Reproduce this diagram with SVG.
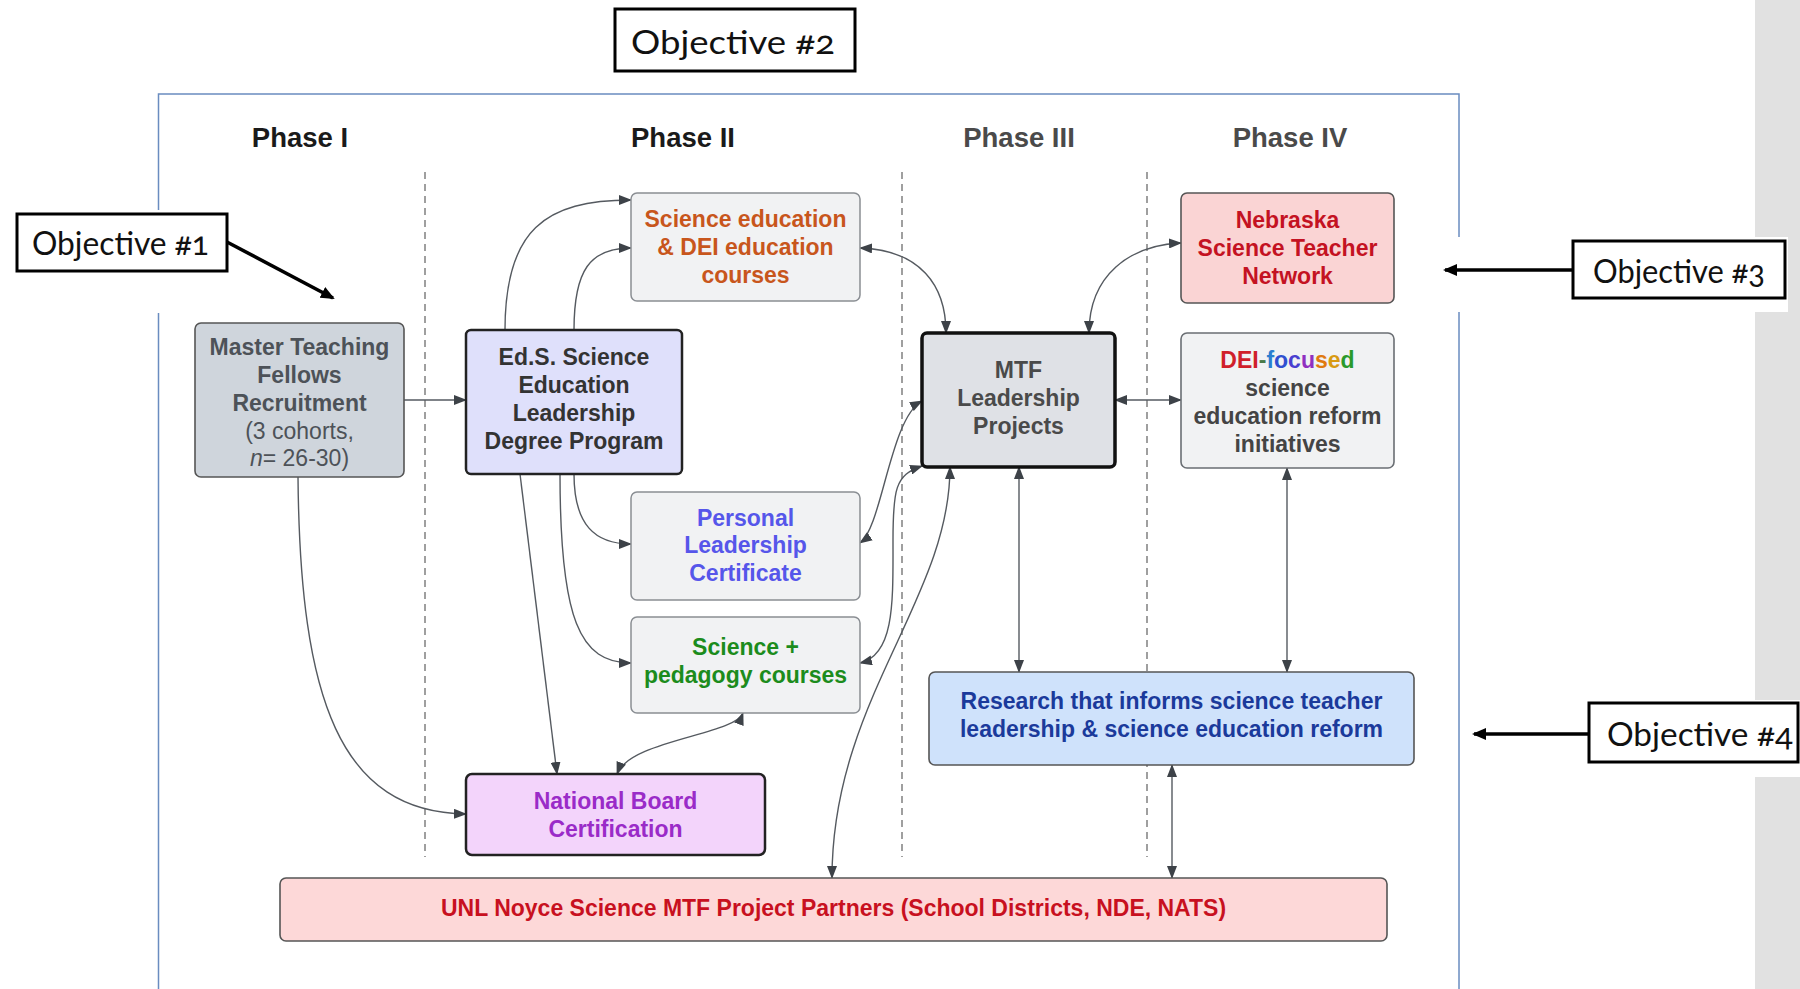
<svg xmlns="http://www.w3.org/2000/svg" width="1800" height="989" viewBox="0 0 1800 989">
<style>
.ph{font-family:"Liberation Sans",Arial,sans-serif;font-weight:bold;font-size:27.5px;text-anchor:middle}
.t{font-family:"Liberation Sans",Arial,sans-serif;font-weight:bold;font-size:23px;text-anchor:middle}
.obj{font-family:Lato,"Open Sans",sans-serif;font-size:33px;fill:#111;font-feature-settings:"onum";font-variant-numeric:oldstyle-nums}
.objbox{fill:#fff;stroke:#000;stroke-width:3}
.c{fill:none;stroke:#555a60;stroke-width:1.4}
.dash{stroke:#777;stroke-width:1.4;stroke-dasharray:7,5}
</style>
<defs>
<marker id="ah" markerWidth="13" markerHeight="10" refX="12" refY="5" orient="auto-start-reverse" markerUnits="userSpaceOnUse">
<path d="M0,0 L13,5 L0,10 z" fill="#3d4248"/>
</marker>
<marker id="bh" markerWidth="14" markerHeight="12" refX="12" refY="6" orient="auto" markerUnits="userSpaceOnUse">
<path d="M0,0 L14,6 L0,12 z" fill="#000"/>
</marker>
</defs>
<rect width="1800" height="989" fill="#fff"/>
<rect x="1755" y="0" width="45" height="989" fill="#e1e1e1"/>
<rect x="158.5" y="94" width="1300.5" height="920" fill="none" stroke="#6a8cc0" stroke-width="1.5"/>
<g id="phases">
<text class="ph" x="300" y="147" fill="#1a1a1a">Phase I</text>
<text class="ph" x="683" y="147" fill="#1a1a1a">Phase II</text>
<text class="ph" x="1019" y="147" fill="#4a4a4a">Phase III</text>
<text class="ph" x="1290" y="147" fill="#4a4a4a">Phase IV</text>
</g>
<g id="dividers">
<line class="dash" x1="425" y1="172" x2="425" y2="857"/>
<line class="dash" x1="902" y1="172" x2="902" y2="857"/>
<line class="dash" x1="1147" y1="172" x2="1147" y2="857"/>
</g>
<g id="connectors">
<path class="c" d="M404,400 L466,400" marker-end="url(#ah)"/>
<path class="c" d="M505,330 C505,230 545,200 631,200" marker-end="url(#ah)"/>
<path class="c" d="M574,330 C574,270 590,248 631,248" marker-end="url(#ah)"/>
<path class="c" d="M574,474 C574,525 595,544 631,544" marker-end="url(#ah)"/>
<path class="c" d="M560,474 C560,620 580,663 631,663" marker-end="url(#ah)"/>
<path class="c" d="M520,474 L557,774" marker-end="url(#ah)"/>
<path class="c" d="M298,477 C300,700 340,812 466,814" marker-end="url(#ah)"/>
<path class="c" d="M743,713 C735,735 630,740 617,774" marker-start="url(#ah)" marker-end="url(#ah)"/>
<path class="c" d="M860,248 C920,250 946,285 946,333" marker-start="url(#ah)" marker-end="url(#ah)"/>
<path class="c" d="M860,543 C882,528 890,418 922,401" marker-start="url(#ah)" marker-end="url(#ah)"/>
<path class="c" d="M860,663 C895,655 893,600 893,540 C893,490 895,475 922,466" marker-start="url(#ah)" marker-end="url(#ah)"/>
<path class="c" d="M950,467 C950,600 832,700 832,878" marker-start="url(#ah)" marker-end="url(#ah)"/>
<path class="c" d="M1019,467 L1019,672" marker-start="url(#ah)" marker-end="url(#ah)"/>
<path class="c" d="M1115,400 L1181,400" marker-start="url(#ah)" marker-end="url(#ah)"/>
<path class="c" d="M1089,333 C1089,275 1130,245 1181,243" marker-start="url(#ah)" marker-end="url(#ah)"/>
<path class="c" d="M1287,468 L1287,672" marker-start="url(#ah)" marker-end="url(#ah)"/>
<path class="c" d="M1172,765 L1172,878" marker-start="url(#ah)" marker-end="url(#ah)"/>
</g>
<g id="master">
<rect x="195" y="323" width="209" height="154" rx="6" fill="#cfd5dc" stroke="#555" stroke-width="1.6"/>
<text class="t" fill="#4d5258"><tspan x="299.5" y="355">Master Teaching</tspan><tspan x="299.5" y="383">Fellows</tspan><tspan x="299.5" y="411">Recruitment</tspan><tspan x="299.5" y="439" font-weight="normal">(3 cohorts,</tspan><tspan x="299.5" y="466" font-weight="normal"><tspan font-style="italic">n</tspan>= 26-30)</tspan></text>
</g>
<g id="eds">
<rect x="466" y="330" width="216" height="144" rx="5" fill="#dfe0fb" stroke="#222" stroke-width="2.5"/>
<text class="t" fill="#333"><tspan x="574" y="365">Ed.S. Science</tspan><tspan x="574" y="393">Education</tspan><tspan x="574" y="421">Leadership</tspan><tspan x="574" y="449">Degree Program</tspan></text>
</g>
<g id="scied">
<rect x="631" y="193" width="229" height="108" rx="6" fill="#f1f2f3" stroke="#8a8e93" stroke-width="1.5"/>
<text class="t" fill="#c8561c"><tspan x="745.5" y="227">Science education</tspan><tspan x="745.5" y="255">&amp; DEI education</tspan><tspan x="745.5" y="283">courses</tspan></text>
</g>
<g id="plc">
<rect x="631" y="492" width="229" height="108" rx="6" fill="#f1f2f3" stroke="#8a8e93" stroke-width="1.5"/>
<text class="t" fill="#5656ea"><tspan x="745.5" y="526">Personal</tspan><tspan x="745.5" y="553">Leadership</tspan><tspan x="745.5" y="581">Certificate</tspan></text>
</g>
<g id="sciped">
<rect x="631" y="617" width="229" height="96" rx="6" fill="#f1f2f3" stroke="#8a8e93" stroke-width="1.5"/>
<text class="t" fill="#1c8c1c"><tspan x="745.5" y="655">Science +</tspan><tspan x="745.5" y="683">pedagogy courses</tspan></text>
</g>
<g id="nbc">
<rect x="466" y="774" width="299" height="81" rx="6" fill="#f3d4fb" stroke="#222" stroke-width="2.5"/>
<text class="t" fill="#9a2bc8"><tspan x="615.5" y="809">National Board</tspan><tspan x="615.5" y="837">Certification</tspan></text>
</g>
<g id="unl">
<rect x="280" y="878" width="1107" height="63" rx="6" fill="#fdd8d8" stroke="#555" stroke-width="1.6"/>
<text class="t" x="833.5" y="916" fill="#c81020">UNL Noyce Science MTF Project Partners (School Districts, NDE, NATS)</text>
</g>
<g id="mtf">
<rect x="922" y="333" width="193" height="134" rx="5" fill="#dfe1e6" stroke="#111" stroke-width="3.5"/>
<text class="t" fill="#4a4a4a"><tspan x="1018.5" y="378">MTF</tspan><tspan x="1018.5" y="406">Leadership</tspan><tspan x="1018.5" y="434">Projects</tspan></text>
</g>
<g id="nebraska">
<rect x="1181" y="193" width="213" height="110" rx="6" fill="#fad4d4" stroke="#555" stroke-width="1.6"/>
<text class="t" fill="#c41222"><tspan x="1287.5" y="228">Nebraska</tspan><tspan x="1287.5" y="256">Science Teacher</tspan><tspan x="1287.5" y="284">Network</tspan></text>
</g>
<g id="dei">
<rect x="1181" y="333" width="213" height="135" rx="6" fill="#f1f2f3" stroke="#6a6e73" stroke-width="1.6"/>
<text class="t" x="1287.5" y="368"><tspan fill="#d0202a">DEI</tspan><tspan fill="#4a7a4a">-</tspan><tspan fill="#2a7fd0">f</tspan><tspan fill="#3050d0">o</tspan><tspan fill="#4a3fd0">c</tspan><tspan fill="#9030c0">u</tspan><tspan fill="#e07a10">s</tspan><tspan fill="#d89a10">e</tspan><tspan fill="#2a9a2a">d</tspan></text>
<text class="t" fill="#444"><tspan x="1287.5" y="396">science</tspan><tspan x="1287.5" y="424">education reform</tspan><tspan x="1287.5" y="452">initiatives</tspan></text>
</g>
<g id="research">
<rect x="929" y="672" width="485" height="93" rx="6" fill="#cfe2fb" stroke="#555" stroke-width="1.6"/>
<text class="t" fill="#1b3a9b"><tspan x="1171.5" y="709">Research that informs science teacher</tspan><tspan x="1171.5" y="737">leadership &amp; science education reform</tspan></text>
</g>
<g id="obj2">
<rect class="objbox" x="615" y="9" width="240" height="62"/>
<text class="obj" x="631" y="54" textLength="204" lengthAdjust="spacingAndGlyphs">Objective #2</text>
</g>
<g id="obj1">
<rect x="0" y="210" width="232" height="103" fill="#fff"/>
<rect class="objbox" x="17" y="214" width="210" height="57"/>
<text class="obj" x="32" y="255" textLength="177" lengthAdjust="spacingAndGlyphs">Objective #1</text>
<line x1="227" y1="242" x2="333" y2="298" stroke="#000" stroke-width="3.5" marker-end="url(#bh)"/>
</g>
<g id="obj3">
<rect x="1440" y="237" width="348" height="75" fill="#fff"/>
<rect class="objbox" x="1573" y="241" width="212" height="57"/>
<text class="obj" x="1593" y="283" textLength="172" lengthAdjust="spacingAndGlyphs">Objective #3</text>
<line x1="1573" y1="270" x2="1445" y2="270" stroke="#000" stroke-width="3.5" marker-end="url(#bh)"/>
</g>
<g id="obj4">
<rect x="1461" y="700" width="339" height="77" fill="#fff"/>
<rect class="objbox" x="1589" y="703" width="209" height="59"/>
<text class="obj" x="1607" y="746" textLength="186" lengthAdjust="spacingAndGlyphs">Objective #4</text>
<line x1="1589" y1="734" x2="1474" y2="734" stroke="#000" stroke-width="3.5" marker-end="url(#bh)"/>
</g>
</svg>
